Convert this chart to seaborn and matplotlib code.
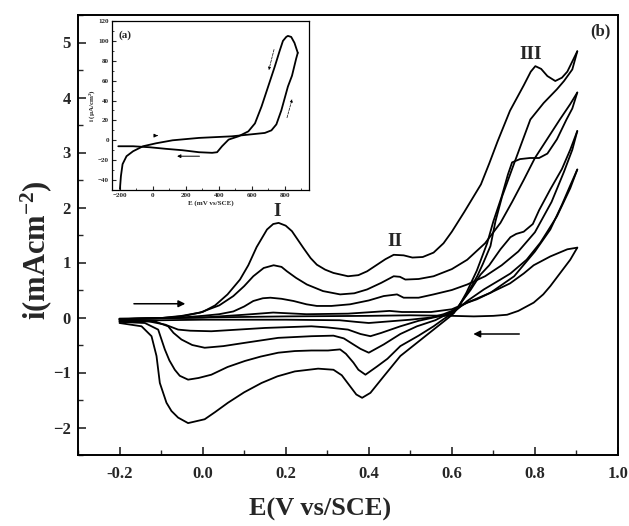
import numpy as np
import pandas as pd
import seaborn as sns
import matplotlib.pyplot as plt

# ---- main CV (b): potential in V, current in mA/cm2 ----
# loop 5 (largest)
a5_x = [-0.2, -0.15, -0.1, -0.05, 0.0, 0.03, 0.06, 0.09, 0.11, 0.13, 0.155, 0.17, 0.183, 0.2, 0.215, 0.243, 0.26,
        0.275, 0.295, 0.315, 0.35, 0.375, 0.396, 0.42, 0.44, 0.46, 0.484, 0.505, 0.53, 0.556, 0.58, 0.6, 0.63, 0.67,
        0.69, 0.71, 0.74, 0.773, 0.79, 0.801, 0.815, 0.83, 0.849, 0.865, 0.878, 0.902]
a5_y = [-0.03, -0.02, -0.01, 0.02, 0.1, 0.22, 0.42, 0.69, 0.95, 1.28, 1.6, 1.7, 1.72, 1.67, 1.57, 1.26, 1.08,
        0.96, 0.87, 0.81, 0.75, 0.77, 0.84, 0.96, 1.06, 1.14, 1.13, 1.09, 1.1, 1.18, 1.35, 1.56, 1.92, 2.42,
        2.8, 3.2, 3.76, 4.22, 4.47, 4.57, 4.52, 4.39, 4.3, 4.36, 4.47, 4.84]
r5_x = [0.902, 0.89, 0.87, 0.853, 0.821, 0.789, 0.765, 0.745, 0.721, 0.705, 0.693, 0.675, 0.661, 0.64, 0.616, 0.605,
        0.596, 0.556, 0.516, 0.476, 0.436, 0.404, 0.384, 0.37, 0.355, 0.335, 0.315, 0.278, 0.222, 0.18, 0.142, 0.1,
        0.061, 0.03, 0.005, -0.035, -0.059, -0.075, -0.087, -0.103, -0.111, -0.123, -0.147, -0.2]
r5_y = [4.84, 4.51, 4.3, 4.15, 3.9, 3.6, 3.11, 2.7, 2.2, 1.75, 1.3, 0.98, 0.75, 0.47, 0.2, 0.08,
        0.02, -0.22, -0.46, -0.7, -1.07, -1.37, -1.46, -1.4, -1.25, -1.05, -0.95, -0.93, -0.98, -1.07, -1.19, -1.36,
        -1.55, -1.72, -1.85, -1.92, -1.82, -1.7, -1.55, -1.19, -0.7, -0.34, -0.16, -0.1]

# loop 4
a4_x = [-0.2, -0.1, -0.05, -0.006, 0.04, 0.074, 0.1, 0.122, 0.147, 0.171, 0.19, 0.203, 0.225, 0.251, 0.29, 0.331,
        0.365, 0.396, 0.43, 0.46, 0.475, 0.488, 0.52, 0.556, 0.6, 0.637, 0.68, 0.717, 0.745, 0.773, 0.8, 0.83,
        0.86, 0.885, 0.902]
a4_y = [-0.03, -0.01, 0.03, 0.09, 0.22, 0.39, 0.57, 0.75, 0.9, 0.95, 0.92, 0.84, 0.72, 0.6, 0.48, 0.42,
        0.44, 0.51, 0.63, 0.75, 0.74, 0.69, 0.7, 0.75, 0.88, 1.05, 1.35, 1.72, 2.1, 2.5, 2.9, 3.25,
        3.6, 3.88, 4.09]
r4_x = [0.902, 0.89, 0.876, 0.853, 0.83, 0.81, 0.788, 0.764, 0.745, 0.735, 0.72, 0.7, 0.685, 0.66, 0.635, 0.615,
        0.604, 0.58, 0.556, 0.52, 0.476, 0.445, 0.42, 0.392, 0.375, 0.363, 0.345, 0.331, 0.302, 0.262, 0.222, 0.182,
        0.14, 0.102, 0.06, 0.021, -0.01, -0.035, -0.055, -0.067, -0.08, -0.091, -0.107, -0.139, -0.2]
r4_y = [4.09, 3.8, 3.6, 3.24, 2.98, 2.9, 2.9, 2.88, 2.82, 2.6, 2.2, 1.75, 1.35, 0.85, 0.45, 0.18,
        0.09, -0.03, -0.16, -0.33, -0.52, -0.75, -0.89, -1.04, -0.95, -0.82, -0.66, -0.58, -0.6, -0.6, -0.61, -0.64,
        -0.71, -0.79, -0.9, -1.04, -1.1, -1.13, -1.06, -0.95, -0.78, -0.58, -0.22, -0.1, -0.08]

# loop 3
a3_x = [-0.2, -0.05, 0.0, 0.04, 0.074, 0.1, 0.122, 0.145, 0.163, 0.19, 0.219, 0.25, 0.275, 0.31, 0.355, 0.4,
        0.436, 0.468, 0.484, 0.52, 0.556, 0.6, 0.637, 0.68, 0.72, 0.76, 0.8, 0.84, 0.87, 0.89, 0.902]
a3_y = [-0.03, 0.0, 0.03, 0.06, 0.11, 0.2, 0.3, 0.35, 0.36, 0.34, 0.3, 0.24, 0.21, 0.21, 0.24, 0.31,
        0.39, 0.42, 0.36, 0.36, 0.42, 0.5, 0.6, 0.75, 0.95, 1.2, 1.55, 2.1, 2.65, 3.05, 3.39]
r3_x = [0.902, 0.885, 0.865, 0.837, 0.81, 0.795, 0.773, 0.755, 0.741, 0.717, 0.69, 0.669, 0.645, 0.628, 0.61,
        0.596, 0.56, 0.516, 0.476, 0.436, 0.4, 0.38, 0.363, 0.34, 0.315, 0.262, 0.182, 0.102, 0.05, 0.005,
        -0.025, -0.051, -0.07, -0.083, -0.115, -0.2]
r3_y = [3.39, 3.05, 2.7, 2.33, 1.95, 1.7, 1.56, 1.52, 1.46, 1.24, 0.95, 0.78, 0.5, 0.33, 0.14,
        0.09, -0.05, -0.16, -0.3, -0.49, -0.64, -0.57, -0.49, -0.38, -0.33, -0.34, -0.37, -0.46, -0.52, -0.55,
        -0.5, -0.4, -0.28, -0.16, -0.07, -0.07]

# loop 2
a2_x = [-0.2, 0.0, 0.1, 0.17, 0.25, 0.35, 0.45, 0.48, 0.55, 0.6, 0.637, 0.693, 0.75, 0.8, 0.837, 0.865, 0.885, 0.902]
a2_y = [-0.03, 0.0, 0.05, 0.09, 0.06, 0.07, 0.12, 0.1, 0.1, 0.15, 0.27, 0.45, 0.75, 1.2, 1.6, 2.05, 2.4, 2.69]
r2_x = [0.902, 0.885, 0.853, 0.829, 0.813, 0.78, 0.741, 0.717, 0.677, 0.637, 0.61, 0.59, 0.556, 0.52, 0.476,
        0.43, 0.404, 0.38, 0.35, 0.3, 0.262, 0.15, 0.021, -0.03, -0.059, -0.09, -0.13, -0.2]
r2_y = [2.69, 2.35, 1.84, 1.55, 1.36, 1.05, 0.8, 0.69, 0.51, 0.3, 0.13, 0.05, 0.0, -0.06, -0.16,
        -0.28, -0.34, -0.3, -0.22, -0.18, -0.16, -0.19, -0.25, -0.24, -0.22, -0.13, -0.07, -0.06]

# loop 1 (smallest)
a1_x = [-0.2, 0.0, 0.2, 0.4, 0.5, 0.6, 0.653, 0.7, 0.733, 0.76, 0.797, 0.82, 0.837, 0.86, 0.885, 0.902]
a1_y = [-0.02, 0.0, 0.02, 0.03, 0.04, 0.03, 0.02, 0.03, 0.05, 0.12, 0.27, 0.42, 0.57, 0.8, 1.05, 1.27]
r1_x = [0.902, 0.878, 0.837, 0.797, 0.773, 0.74, 0.693, 0.66, 0.637, 0.62, 0.6, 0.58, 0.55, 0.5, 0.45, 0.4,
        0.37, 0.33, 0.2, 0.0, -0.1, -0.2]
r1_y = [1.27, 1.24, 1.11, 0.95, 0.8, 0.62, 0.45, 0.33, 0.27, 0.2, 0.12, 0.06, 0.0, -0.04, -0.07, -0.1,
        -0.08, -0.05, -0.04, -0.04, -0.05, -0.05]

# ---- inset (a): potential in mV, current in uA/cm2 ----
in_fwd_x = [-200, -194, -184, -160, -120, -60, 20, 120, 280, 480, 580, 680, 720, 750, 780, 800, 820, 845, 870, 880]
in_fwd_y = [-49, -36, -24, -16, -11, -6, -3, 0, 2.4, 4, 5.7, 7.4, 10, 16, 30, 42, 54, 65, 82, 88]
in_rev_x = [880, 860, 840, 820, 810, 790, 770, 740, 700, 660, 620, 580, 520, 460, 420, 390, 360, 280, 180, 80,
            -20, -120, -210]
in_rev_y = [88, 98, 104, 105, 104, 100, 90, 74, 54, 34, 17, 9, 4, 0.7, -6, -12, -12.6, -12, -10, -8.6,
            -7, -6, -6]

branches = [
    (a5_x, a5_y), (r5_x, r5_y), (a4_x, a4_y), (r4_x, r4_y), (a3_x, a3_y), (r3_x, r3_y),
    (a2_x, a2_y), (r2_x, r2_y), (a1_x, a1_y), (r1_x, r1_y),
]
rows = []
for k, (bx, by) in enumerate(branches):
    for px, py in zip(bx, by):
        rows.append({"E": px, "i": py, "branch": k})
df = pd.DataFrame(rows)

ins = pd.DataFrame({"E": in_fwd_x + in_rev_x, "i": in_fwd_y + in_rev_y,
                    "branch": [0] * len(in_fwd_x) + [1] * len(in_rev_x)})

sns.set_style("ticks")
plt.rcParams["font.family"] = ["Liberation Serif", "DejaVu Serif"]
plt.rcParams["font.weight"] = "bold"
plt.rcParams["mathtext.default"] = "regular"

fig = plt.figure(figsize=(6.29, 5.26), dpi=100)
ax = fig.add_axes([78 / 629, 1 - 455 / 526, 540 / 629, 440 / 526])

sns.lineplot(data=df, x="E", y="i", units="branch", estimator=None, sort=False,
             color="black", linewidth=1.3, ax=ax)

ax.set_xlim(-0.3, 1.0)
ax.set_ylim(-2.5, 5.5)
ax.set_xticks([-0.2, 0.0, 0.2, 0.4, 0.6, 0.8, 1.0])
ax.set_xticks(np.arange(-0.3, 1.0, 0.1), minor=True)
ax.set_yticks([-2, -1, 0, 1, 2, 3, 4, 5])
ax.set_yticks(np.arange(-2.5, 5.6, 0.5), minor=True)
ax.set_xticklabels(["-0.2", "0.0", "0.2", "0.4", "0.6", "0.8", "1.0"])
ax.tick_params(which="major", direction="in", length=6, width=1.2, labelsize=12)
ax.tick_params(axis="x", which="major", pad=8)
ax.tick_params(axis="y", which="major", pad=5)
ax.tick_params(which="minor", direction="in", length=3.5, width=1.0)
for s in ax.spines.values():
    s.set_linewidth(1.4)
    s.set_color("black")
ax.set_xlabel("E(V vs/SCE)", fontsize=19, fontweight="bold")
ax.set_ylabel("i(mAcm$^{-2}$)", fontsize=22, fontweight="bold")
ax.xaxis.set_label_coords(0.448, -0.098)
ax.yaxis.set_label_coords(-0.045, 0.466)

ax.annotate("", xy=(-0.035, 0.25), xytext=(-0.172, 0.25),
            arrowprops=dict(arrowstyle="-|>", color="black", lw=1.1, mutation_scale=10))
ax.annotate("", xy=(0.645, -0.3), xytext=(0.769, -0.3),
            arrowprops=dict(arrowstyle="-|>", color="black", lw=1.1, mutation_scale=10))
ax.text(0.179, 1.93, "I", fontsize=14, fontweight="bold", ha="center", va="center")
ax.text(0.464, 1.39, "II", fontsize=14, fontweight="bold", ha="center", va="center")
ax.text(0.789, 4.78, "III", fontsize=14, fontweight="bold", ha="center", va="center")
ax.text(0.958, 5.2, "(b)", fontsize=12, fontweight="bold", ha="center", va="center")

# inset
axi = fig.add_axes([111.7 / 629, 1 - 190 / 526, 197.6 / 629, 169 / 526])
sns.lineplot(data=ins, x="E", y="i", units="branch", estimator=None, sort=False,
             color="black", linewidth=1.3, ax=axi)
axi.set_xlim(-250, 950)
axi.set_ylim(-50, 120)
axi.set_xticks([-200, 0, 200, 400, 600, 800])
axi.set_yticks([-40, -20, 0, 20, 40, 60, 80, 100, 120])
axi.set_xticks(np.arange(-200, 950, 100), minor=True)
axi.set_yticks(np.arange(-50, 121, 10), minor=True)
axi.tick_params(which="major", direction="in", length=3, width=0.8, labelsize=5, pad=2)
axi.tick_params(which="minor", direction="in", length=1.5, width=0.6)
for s in axi.spines.values():
    s.set_linewidth(0.9)
    s.set_color("black")
axi.set_xlabel("E (mV vs/SCE)", fontsize=5, fontweight="bold", labelpad=2)
axi.set_ylabel("i (\u00b5A/cm$^{2}$)", fontsize=5, fontweight="bold", labelpad=1)
axi.text(-170, 106, "(a)", fontsize=8, fontweight="bold", ha="center", va="center")
axi.annotate("", xy=(130, -16), xytext=(300, -16),
             arrowprops=dict(arrowstyle="-|>", color="black", lw=0.7, mutation_scale=5))
axi.annotate("", xy=(30, 4.7), xytext=(5, 4.7),
             arrowprops=dict(arrowstyle="-|>", color="black", lw=0.7, mutation_scale=5))
axi.annotate("", xy=(700, 68), xytext=(740, 94),
             arrowprops=dict(arrowstyle="-|>", color="black", lw=0.5, ls="--", mutation_scale=4))
axi.annotate("", xy=(850, 44), xytext=(810, 20),
             arrowprops=dict(arrowstyle="-|>", color="black", lw=0.5, ls="--", mutation_scale=4))

fig.savefig("out.png", dpi=100)
